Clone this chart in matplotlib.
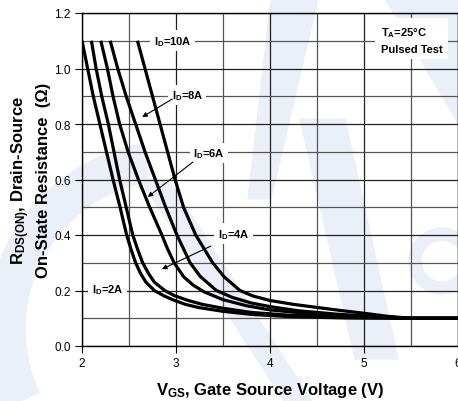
import matplotlib
matplotlib.use("Agg")
import matplotlib.pyplot as plt
from matplotlib.patches import Polygon, Wedge

# gate voltage (V) vs on-resistance (ohm)
vgs_2a = [2.00, 2.06, 2.12, 2.19, 2.26, 2.33, 2.405, 2.475, 2.52, 2.57, 2.625, 2.68, 2.77, 2.87, 2.97, 3.10, 3.25, 3.50, 3.80, 4.20, 4.80, 5.50, 6.00]
rds_2a = [1.10, 1.00, 0.90, 0.80, 0.70, 0.60, 0.50, 0.40, 0.35, 0.30, 0.26, 0.23, 0.20, 0.181, 0.166, 0.150, 0.138, 0.125, 0.114, 0.106, 0.101, 0.100, 0.100]

vgs_4a = [2.10, 2.15, 2.21, 2.28, 2.34, 2.40, 2.47, 2.54, 2.59, 2.645, 2.71, 2.77, 2.88, 2.98, 3.12, 3.28, 3.50, 3.80, 4.20, 4.80, 5.50, 6.00]
rds_4a = [1.10, 1.00, 0.90, 0.80, 0.70, 0.60, 0.50, 0.40, 0.35, 0.30, 0.26, 0.23, 0.20, 0.182, 0.165, 0.150, 0.136, 0.121, 0.111, 0.103, 0.100, 0.100]

vgs_6a = [2.20, 2.27, 2.33, 2.40, 2.49, 2.60, 2.72, 2.85, 2.91, 2.98, 3.08, 3.18, 3.30, 3.50, 3.75, 4.00, 4.50, 5.00, 5.50, 6.00]
rds_6a = [1.10, 1.00, 0.90, 0.80, 0.70, 0.60, 0.50, 0.40, 0.35, 0.30, 0.25, 0.22, 0.195, 0.167, 0.145, 0.130, 0.114, 0.105, 0.100, 0.100]

vgs_8a = [2.30, 2.38, 2.47, 2.57, 2.67, 2.78, 2.89, 3.01, 3.08, 3.15, 3.26, 3.43, 3.60, 3.80, 4.00, 4.30, 4.70, 5.10, 5.50, 6.00]
rds_8a = [1.10, 1.00, 0.90, 0.80, 0.70, 0.60, 0.50, 0.40, 0.35, 0.30, 0.25, 0.20, 0.175, 0.155, 0.142, 0.127, 0.115, 0.106, 0.100, 0.100]

vgs_10a = [2.59, 2.67, 2.75, 2.83, 2.91, 2.99, 3.08, 3.21, 3.30, 3.39, 3.51, 3.68, 3.82, 4.00, 4.25, 4.50, 4.75, 5.00, 5.25, 5.50, 6.00]
rds_10a = [1.10, 1.00, 0.90, 0.80, 0.70, 0.60, 0.50, 0.40, 0.35, 0.30, 0.25, 0.20, 0.18, 0.164, 0.150, 0.139, 0.128, 0.118, 0.107, 0.100, 0.100]

curves = [(vgs_2a, rds_2a), (vgs_4a, rds_4a), (vgs_6a, rds_6a), (vgs_8a, rds_8a), (vgs_10a, rds_10a)]

plt.rcParams['font.family'] = ['Liberation Sans', 'DejaVu Sans']
plt.rcParams['mathtext.fontset'] = 'custom'
plt.rcParams['mathtext.rm'] = 'Liberation Sans:bold'
plt.rcParams['mathtext.it'] = 'Liberation Sans:bold'
plt.rcParams['mathtext.bf'] = 'Liberation Sans:bold'

fig = plt.figure(figsize=(4.58, 4.02), dpi=100)

# faint background logo (pixel coords, origin bottom left)
wm = '#ebf0f8'
H = 402
def img(pts):
    return [(x, H - y) for x, y in pts]
fig.patches.append(Wedge((175, H - 330), 188, 100, 205, width=38, color=wm, transform=None, zorder=0))
fig.patches.append(Polygon(img([(140, 180), (168, 180), (312, 402), (284, 402)]), color=wm, transform=None, zorder=0))
fig.patches.append(Polygon(img([(271, 0), (318, 0), (271, 200), (248, 200)]), color=wm, transform=None, zorder=0))
fig.patches.append(Polygon(img([(300, 120), (345, 120), (398, 360), (355, 360)]), color=wm, transform=None, zorder=0))
fig.patches.append(Polygon(img([(385, 0), (458, 0), (458, 125)]), color=wm, transform=None, zorder=0))
fig.patches.append(Wedge((442, H - 262), 33, 20, 330, width=12, color=wm, transform=None, zorder=0))

ax = fig.add_axes([82/458, 1 - 347/402, 376/458, 333/402])
ax.set_facecolor('none')
ax.set_zorder(1)

for v, r in curves:
    ax.plot(v, r, color='black', lw=2.3, solid_capstyle='butt', solid_joinstyle='round', zorder=3)

ax.set_xlim(2, 6)
ax.set_ylim(0, 1.2)
ax.set_xticks([2, 3, 4, 5, 6])
ax.set_yticks([0.0, 0.2, 0.4, 0.6, 0.8, 1.0, 1.2])
ax.set_yticklabels(['0.0', '0.2', '0.4', '0.6', '0.8', '1.0', '1.2'])
ax.set_xticks([2.5, 3.5, 4.5, 5.5], minor=True)
ax.set_yticks([0.1, 0.3, 0.5, 0.7, 0.9, 1.1], minor=True)
ax.tick_params(which='major', direction='out', length=5, width=0.8, labelsize=8.5, pad=3)
ax.tick_params(which='minor', length=0)
ax.grid(True, which='major', color='#202020', lw=0.9)
ax.grid(True, which='minor', color='#555555', lw=0.9)
ax.set_axisbelow(True)
for s in ax.spines.values():
    s.set_linewidth(1.0)

bold = dict(fontsize=8, fontweight='bold', ha='center', va='center', zorder=4,
            bbox=dict(facecolor='white', edgecolor='none', pad=2.5))
ax.text(2.965, 1.10, r'I$_\mathrm{D}$=10A', **bold)
ax.text(3.12, 0.905, r'I$_\mathrm{D}$=8A', **bold)
ax.text(3.35, 0.695, r'I$_\mathrm{D}$=6A', **bold)
ax.text(3.61, 0.405, r'I$_\mathrm{D}$=4A', **bold)
ax.text(2.27, 0.205, r'I$_\mathrm{D}$=2A', **bold)
ax.text(5.18, 1.105, 'T$_\\mathrm{A}$=25°C\nPulsed Test', fontsize=8, fontweight='bold',
        ha='left', va='center', linespacing=1.6, zorder=4,
        bbox=dict(facecolor='white', edgecolor='none', pad=4))

arrow = dict(arrowstyle='-|>', lw=0.8, color='black', mutation_scale=7, shrinkA=0, shrinkB=0)
ax.annotate('', xy=(2.64, 0.825), xytext=(2.96, 0.89), arrowprops=arrow, zorder=4)
ax.annotate('', xy=(2.70, 0.537), xytext=(3.18, 0.663), arrowprops=arrow, zorder=4)
ax.annotate('', xy=(2.85, 0.277), xytext=(3.37, 0.36), arrowprops=arrow, zorder=4)

ax.set_xlabel(r'V$_\mathrm{GS}$, Gate Source Voltage (V)', fontsize=12, fontweight='bold', labelpad=8)
ax.set_ylabel('R$_\\mathrm{DS(ON)}$, Drain-Source\nOn-State Resistance  (Ω)', fontsize=12,
              fontweight='bold', linespacing=1.35)
ax.yaxis.set_label_coords(-0.082, 0.5)

fig.savefig('out.png', dpi=100)
